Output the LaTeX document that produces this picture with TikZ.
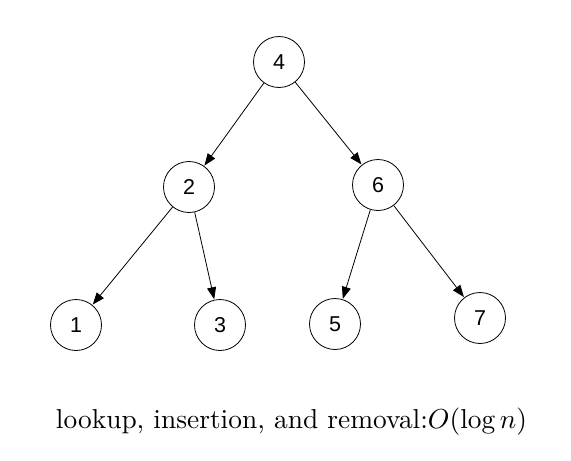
\documentclass[tikz,border=0pt]{standalone}
\usepackage{fontspec}
\newfontfamily\helv{Liberation Sans}
\usetikzlibrary{arrows.meta}
\begin{document}
\begin{tikzpicture}[x=1pt,y=-1pt,
  tnode/.style={draw,circle,minimum size=51pt,inner sep=0pt,line width=0.8pt,font=\helv\fontsize{21.5}{24}\selectfont},
  edge/.style={-{Triangle[length=12pt,width=9pt]},line width=0.8pt,shorten >=0.5pt}]
\useasboundingbox (0,0) rectangle (571,461);
\node[tnode] (n4) at (279,62) {4};
\node[tnode] (n2) at (189,187) {2};
\node[tnode] (n6) at (378,185) {6};
\node[tnode] (n1) at (76,325) {1};
\node[tnode] (n3) at (220,325) {3};
\node[tnode] (n5) at (335,324) {5};
\node[tnode] (n7) at (480,318) {7};
\draw[edge] (n4) -- (n2);
\draw[edge] (n4) -- (n6);
\draw[edge] (n2) -- (n1);
\draw[edge] (n2) -- (n3);
\draw[edge] (n6) -- (n5);
\draw[edge] (n6) -- (n7);
\node[anchor=base,inner sep=0pt] (cap) at (291.5,428) {\resizebox{471pt}{!}{lookup, insertion, and removal:$O(\log n)$}};
\end{tikzpicture}
\end{document}
